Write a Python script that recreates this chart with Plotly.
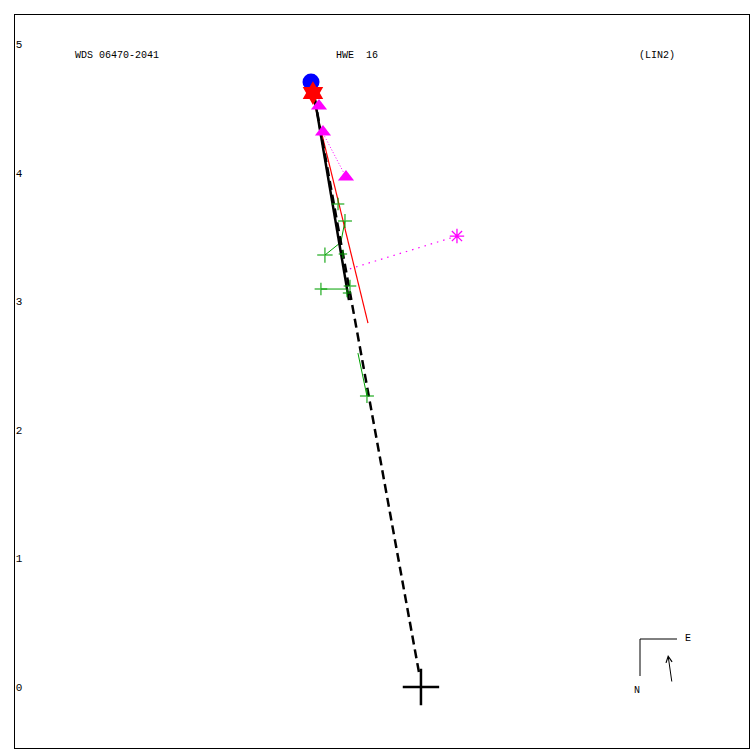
import plotly.graph_objects as go

# ---- data (arcsec, primary at origin) ----
primary_x = [0.0]
primary_y = [0.0]

fit_solid_x = [-0.855, -0.560]
fit_solid_y = [4.743, 3.009]

fit_dash_x = [-0.016, -0.848]
fit_dash_y = [0.117, 4.697]

red_line_x = [-0.863, -0.412]
red_line_y = [4.681, 2.830]

blue_x = [-0.855]
blue_y = [4.705]

star_x = [-0.840]
star_y = [4.619]

tri_x = [-0.793, -0.762, -0.583]
tri_y = [4.518, 4.316, 3.966]
tri_res_x = [-0.583, -0.754]
tri_res_y = [3.966, 4.292]

ast_x = [0.280]
ast_y = [3.507]
ast_res_x = [0.280, -0.560]
ast_res_y = [3.507, 3.250]

green_x = [-0.645, -0.591, -0.747, -0.607, -0.778, -0.552, -0.575, -0.420]
green_y = [3.756, 3.624, 3.359, 3.367, 3.095, 3.118, 3.064, 2.263]
green_size = [9, 10, 11, 6, 9, 9, 6, 10]
green_res = [
    ([-0.747, -0.630], [3.359, 3.453]),
    ([-0.591, -0.630], [3.624, 3.421]),
    ([-0.778, -0.568], [3.095, 3.095]),
    ([-0.420, -0.490], [2.263, 2.597]),
]

y_ticks = [0, 1, 2, 3, 4, 5]
x_range = [-3.157, 2.551]
y_range = [-0.474, 5.226]

title_left = "WDS 06470-2041"
title_mid = "HWE\u00a0\u00a016"
title_right = "(LIN2)"

MONO = "Liberation Mono, DejaVu Sans Mono, monospace"
GREEN = "#00a000"
MAG = "#ff00ff"

fig = go.Figure()

for rx, ry in green_res:
    fig.add_trace(go.Scatter(x=rx, y=ry, mode="lines",
                             line=dict(color=GREEN, width=1)))

fig.add_trace(go.Scatter(x=red_line_x, y=red_line_y, mode="lines",
                         line=dict(color="red", width=1.2)))
fig.add_trace(go.Scatter(x=tri_res_x, y=tri_res_y, mode="lines",
                         line=dict(color=MAG, width=1, dash="1px,2px")))
fig.add_trace(go.Scatter(x=ast_res_x, y=ast_res_y, mode="lines",
                         line=dict(color=MAG, width=1.2, dash="1.5px,5px")))

fig.add_trace(go.Scatter(x=fit_dash_x, y=fit_dash_y, mode="lines",
                         line=dict(color="black", width=2.5, dash="9px,5px")))
fig.add_trace(go.Scatter(x=fit_solid_x, y=fit_solid_y, mode="lines",
                         line=dict(color="black", width=2.5)))

fig.add_trace(go.Scatter(x=green_x, y=green_y, mode="markers",
                         marker=dict(symbol="cross-thin", size=green_size,
                                     color=GREEN,
                                     line=dict(color=GREEN, width=1.5))))

fig.add_trace(go.Scatter(x=tri_x, y=tri_y, mode="markers",
                         marker=dict(symbol="triangle-up", size=14, color=MAG)))
fig.add_trace(go.Scatter(x=ast_x, y=ast_y, mode="markers",
                         marker=dict(symbol="asterisk-open", size=12, color=MAG,
                                     line=dict(color=MAG, width=1.3))))
fig.add_trace(go.Scatter(x=blue_x, y=blue_y, mode="markers",
                         marker=dict(symbol="circle", size=17, color="blue")))
fig.add_trace(go.Scatter(x=star_x, y=star_y, mode="markers",
                         marker=dict(symbol="hexagram", size=18, color="red")))
fig.add_trace(go.Scatter(x=primary_x, y=primary_y, mode="markers",
                         marker=dict(symbol="cross-thin", size=26, color="black",
                                     line=dict(color="black", width=2.5))))

fig.update_layout(
    width=750, height=750,
    margin=dict(l=15, r=1, t=15, b=2),
    paper_bgcolor="white", plot_bgcolor="white",
    showlegend=False,
    font=dict(family=MONO, size=11, color="black"),
    xaxis=dict(range=x_range, showgrid=False, zeroline=False,
               showticklabels=False, ticks="", showline=True, mirror=True,
               linecolor="black", linewidth=1),
    yaxis=dict(range=y_range, showgrid=False, zeroline=False,
               tickvals=y_ticks, ticktext=[str(t) for t in y_ticks],
               ticks="", ticklabelposition="inside",
               tickfont=dict(family=MONO, size=11, color="black"),
               showline=True, mirror=True, linecolor="black", linewidth=1),
)

def px(xp):
    return (xp - 15) / 734.0

def py(yp):
    return (748 - yp) / 733.0

for txt, xl in [(title_left, 73), (title_mid, 334), (title_right, 637)]:
    fig.add_annotation(text=txt, xref="paper", yref="paper", x=px(xl), y=py(55),
                       xanchor="left", yanchor="middle", showarrow=False,
                       font=dict(family=MONO, size=10, color="black"))

# compass
fig.add_shape(type="line", xref="paper", yref="paper",
              x0=px(640), y0=py(676), x1=px(640), y1=py(639),
              line=dict(color="black", width=1))
fig.add_shape(type="line", xref="paper", yref="paper",
              x0=px(640), y0=py(639), x1=px(677), y1=py(639),
              line=dict(color="black", width=1))
fig.add_annotation(text="E", xref="paper", yref="paper", x=px(683), y=py(638),
                   xanchor="left", yanchor="middle", showarrow=False,
                   font=dict(family=MONO, size=10, color="black"))
fig.add_annotation(text="N", xref="paper", yref="paper", x=px(632), y=py(690),
                   xanchor="left", yanchor="middle", showarrow=False,
                   font=dict(family=MONO, size=10, color="black"))
fig.add_annotation(text="", xref="paper", yref="paper", x=px(668), y=py(655),
                   ax=4, ay=28, showarrow=True, arrowhead=5, arrowsize=1.2,
                   arrowwidth=1, arrowcolor="black")

fig.write_html("out.html",
               config={"displayModeBar": False},
               post_script="document.body.style.margin='0';"
                           "document.body.style.overflow='hidden';")
